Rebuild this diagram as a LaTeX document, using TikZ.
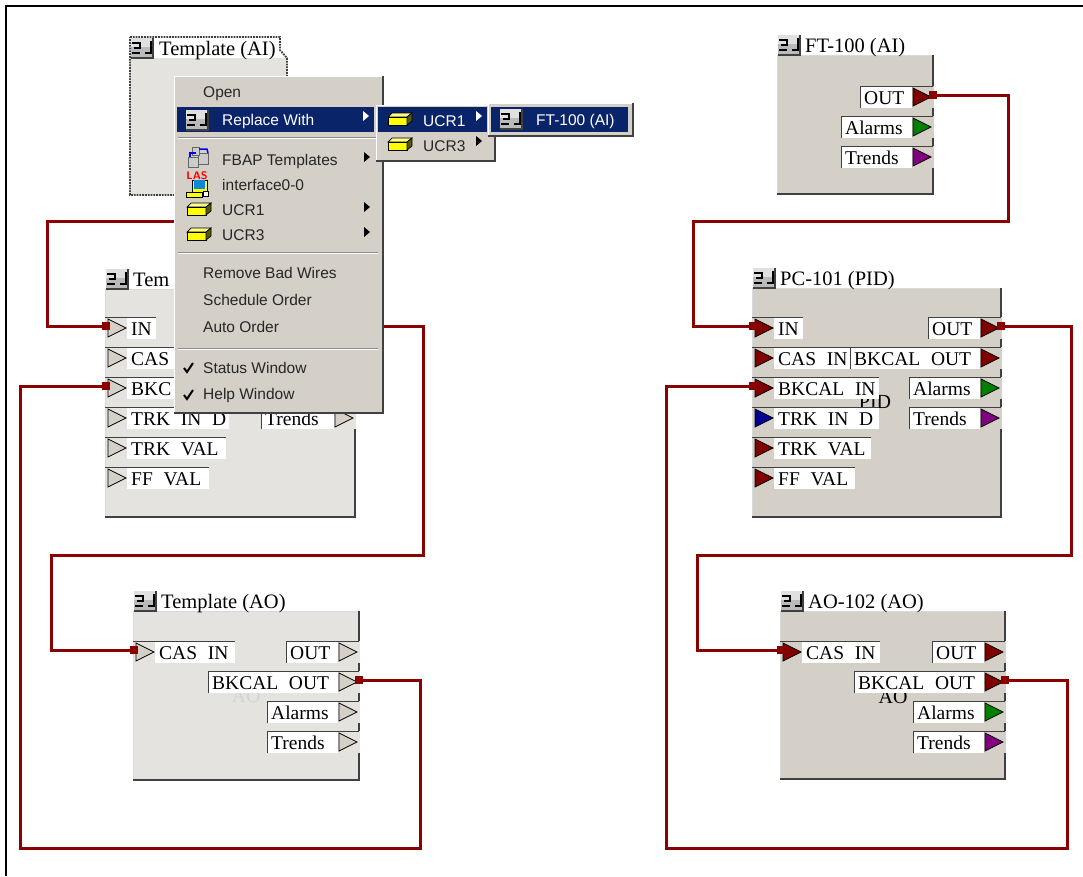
\documentclass[tikz,border=0pt]{standalone}
\usepackage{fontspec}
\setmainfont{Liberation Serif}
\newfontfamily\pinfamily{Liberation Serif}[WordSpace=2.2]
\newfontfamily\menufamily{Liberation Sans}
\usetikzlibrary{arrows.meta}

\definecolor{bodygray}{HTML}{D4D0C8}
\definecolor{stipple}{HTML}{E5E3DF}
\definecolor{edgedark}{HTML}{404040}
\definecolor{wirered}{HTML}{8B0000}
\definecolor{pinred}{HTML}{800000}
\definecolor{pinblue}{HTML}{000090}
\definecolor{pingreen}{HTML}{008000}
\definecolor{pinpurple}{HTML}{800080}
\definecolor{menunavy}{HTML}{0A246A}
\definecolor{chipyellow}{HTML}{FFFF00}

\tikzset{
  frameline/.style={line width=2pt, black},
  wire/.style={line width=3pt, wirered,
    {Square[length=8pt,width=8pt]}-{Square[length=8pt,width=8pt]}},
  edgeline/.style={line width=1.5pt, edgedark},
  pinline/.style={line width=1pt, edgedark},
  pintip/.style={draw=black, line width=0.8pt, line join=miter},
  pintext/.style={inner sep=0pt, anchor=west, yshift=-1pt, text=black, font=\pinfamily\fontsize{19.5}{20}\selectfont},
  titletext/.style={inner sep=0pt, anchor=west, text height=16pt, text depth=2pt, text=black, font=\fontsize{20.5}{22}\selectfont},
  middletext/.style={inner sep=0pt, font=\fontsize{20}{22}\selectfont},
  menutext/.style={inner sep=0pt, anchor=west, yshift=-1pt, text=black!85, font=\menufamily\fontsize{15.5}{17}\selectfont},
  seloutline/.style={line width=1.8pt, black!75, densely dotted},
  menubox/.style={fill=bodygray},
  blockicon/.pic={
    \fill[black!27] (0,0) rectangle (22,20);
    \fill[black!12] (0,0) rectangle (22,9);
    \draw[edgedark, line width=1.3pt] (22,0) -- (22,20) -- (0,20);
    \draw[black, line width=1.2pt] (1,5) -- (9,5) -- (9,10) -- (3,10) (1,15) -- (9,15)
      (20,3) -- (20,15) -- (14,15);
  },
  chipicon/.pic={
    \fill[chipyellow!50!white, draw=black, line width=0.7pt] (0,4) -- (4,0) -- (24,0) -- (19,4) -- cycle;
    \fill[chipyellow, draw=black, line width=0.7pt] (0,4) rectangle (19,12);
    \fill[black!65!chipyellow, draw=black, line width=0.7pt] (19,4) -- (24,0) -- (24,8) -- (19,12) -- cycle;
    \draw[black, line width=1.4pt] (0,12.5) -- (19,12.5);
  },
}

% block body with its icon and title
\newcommand{\blockbody}[7]{
  \fill[#5] (#1,#2) rectangle (#3,#4);
  \draw[white!85!black, line width=1pt] (#1,#4) -- (#1,#2) -- (#3,#2);
  \draw[edgeline] (#3,#2) -- (#3,#4) -- (#1,#4);
  \pic at (#1+1,#2-20) {blockicon};
  \node[titletext] (#7) at (#1+28,#2-9.5) {#6};
}

% pin on the left side: name, x of block, row, colour, text, label width
\newcommand{\pinleft}[6]{
  \fill[white] (#2+22,#3-11) rectangle (#2+22+#6,#3+11);
  \draw[pinline] (#2,#3-11) -- (#2+22+#6,#3-11);
  \fill[#4, pintip] (#2+3,#3-9) -- (#2+21,#3) -- (#2+3,#3+9) -- cycle;
  \node[pintext] (#1-text) at (#2+26,#3) {#5};
  \coordinate (#1) at (#2+5,#3-2);
}

% pin on the right side, the same arguments
\newcommand{\pinright}[6]{
  \fill[\pinback] (#2-21,#3-11) rectangle (#2+1,#3+11);
  \fill[white] (#2-21-#6,#3-11) rectangle (#2-21,#3+11);
  \draw[pinline] (#2-21-#6,#3+11) -- (#2-21-#6,#3-11) -- (#2,#3-11);
  \fill[#4, pintip] (#2-20,#3-9) -- (#2-2,#3) -- (#2-20,#3+9) -- cycle;
  \node[pintext] (#1-text) at (#2-21-#6+4,#3) {#5};
  \coordinate (#1) at (#2-4,#3-2);
}

\begin{document}
\begin{tikzpicture}[x=1pt, y=-1pt]
  \useasboundingbox (0,0) rectangle (1083,876);

  % outer frame
  \draw[frameline] (6,876) -- (6,6) -- (1083,6);

  % selected template block
  \fill[stipple] (130,58) rectangle (287,195);
  \draw[seloutline] (130,37) -- (280,37) -- (280,50) -- (287,58) -- (287,195) -- (130,195) -- cycle;
  \pic at (131,38) {blockicon};
  \node[titletext] (tplai) at (159,48) {Template (AI)};

  % template blocks
  \def\pinback{stipple}
  \blockbody{105}{289}{355}{517}{stipple}{Tem}{tplpid}
  \blockbody{133}{611}{359}{780}{stipple}{Template (AO)}{tplao}
  \node[middletext, text=black!17] (tplaomark) at (246,696) {AO};
  \foreach \nm/\y/\lab/\w in {tin/328/IN/29, tcas/358/CAS/75, tbk/388/BKC/104,
      ttrk/418/TRK IN D/102, tval/448/TRK VAL/99, tff/478/FF VAL/82} {
    \pinleft{\nm}{105}{\y}{bodygray}{\lab}{\w}
  }
  \coordinate (tout) at (351,326);
  \pinright{ttrends}{355}{418}{bodygray}{Trends}{73}
  \pinleft{aocas}{133}{652}{bodygray}{CAS IN}{80}
  \foreach \nm/\y/\lab/\w in {aoout/652/OUT/52, aobk/682/BKCAL OUT/130,
      aoalarm/712/Alarms/71, aotrend/742/Trends/71} {
    \pinright{\nm}{359}{\y}{bodygray}{\lab}{\w}
  }

  % working blocks
  \def\pinback{bodygray}
  \blockbody{777}{55}{933}{194}{bodygray}{FT-100 (AI)}{ftblock}
  \foreach \nm/\y/\col/\lab/\w in {ftout/97/pinred/OUT/52, ftalarm/127/pingreen/Alarms/71,
      fttrend/157/pinpurple/Trends/71} {
    \pinright{\nm}{933}{\y}{\col}{\lab}{\w}
  }

  \blockbody{752}{288}{1001}{517}{bodygray}{PC-101 (PID)}{pcblock}
  \node[middletext] (pcmark) at (875,402) {PID};
  \foreach \nm/\y/\col/\lab/\w in {pctrk/418/pinblue/TRK IN D/105, pcval/448/pinred/TRK VAL/97,
      pcff/478/pinred/FF VAL/81, pccas/358/pinred/CAS IN/76, pcin/328/pinred/IN/29,
      pcbk/388/pinred/BKCAL IN/105} {
    \pinleft{\nm}{752}{\y}{\col}{\lab}{\w}
  }
  \foreach \nm/\y/\col/\lab/\w in {pcout/328/pinred/OUT/52, pcbko/358/pinred/BKCAL OUT/130,
      pcalarm/388/pingreen/Alarms/71, pctrend/418/pinpurple/Trends/71} {
    \pinright{\nm}{1001}{\y}{\col}{\lab}{\w}
  }

  \blockbody{780}{611}{1005}{779}{bodygray}{AO-102 (AO)}{aoblock}
  \node[middletext] (aomark) at (893,697) {AO};
  \pinleft{rcas}{780}{652}{pinred}{CAS IN}{78}
  \foreach \nm/\y/\col/\lab/\w in {roout/652/pinred/OUT/52, robk/682/pinred/BKCAL OUT/130,
      roalarm/712/pingreen/Alarms/71, rotrend/742/pinpurple/Trends/71} {
    \pinright{\nm}{1005}{\y}{\col}{\lab}{\w}
  }

  % wires
  \coordinate (aiout) at (230,221);
  \draw[wire] (aiout) -- (47,221) |- (tin);
  \draw[wire] (tout) -| (423,555) -- (51,555) |- (aocas);
  \draw[wire] (aobk) -| (420,848) -- (20,848) |- (tbk);
  \draw[wire] (ftout) -| (1008,221) -- (693,221) |- (pcin);
  \draw[wire] (pcout) -| (1071,555) -- (697,555) |- (rcas);
  \draw[wire] (robk) -| (1067,848) -- (666,848) |- (pcbk);

  % main menu
  \fill[menubox] (174,76) rectangle (383,413);
  \draw[white, line width=1pt] (174,413) -- (174,76) -- (383,76);
  \draw[edgeline] (383,76) -- (383,413) -- (174,413);
  \fill[menunavy] (177,107) rectangle (374,132);
  \foreach \y in {137, 252, 348} {
    \draw[black!45, line width=1pt] (178,\y) -- (378,\y);
    \draw[white, line width=1pt] (178,\y+1) -- (378,\y+1);
  }
  \foreach \nm/\y/\lab in {mopen/93/Open, mbad/272/Remove Bad Wires, msched/299/Schedule Order,
      mauto/326/Auto Order, mstatus/367/Status Window, mhelp/394/Help Window}
    \node[menutext] (\nm) at (203,\y) {\lab};
  \foreach \nm/\y/\lab in {mfbap/160/FBAP Templates, miface/184/interface0-0, mucra/209/UCR1, mucrb/234/UCR3}
    \node[menutext] (\nm) at (222,\y) {\lab};
  \node[menutext, text=white] (mreplace) at (222,120) {Replace With};
  \foreach \y in {152, 202, 227}
    \fill[black] (364,\y) -- (370,\y+5) -- (364,\y+10) -- cycle;
  \fill[white] (363,111) -- (369,116) -- (363,121) -- cycle;
  \foreach \y in {368, 395}
    \draw[black, line width=2pt] (184,\y) -- (187,\y+4) -- (193,\y-5);

  % menu icons
  \pic at (186,110) {blockicon};
  \fill[black!20, draw=black!60] (188,157) rectangle (198,167);
  \fill[black!20, draw=black!60] (198,153) rectangle (208,164);
  \fill[black!20, draw=black!60] (192,147) rectangle (199,155);
  \draw[blue, line width=1.5pt] (199,149) -- (207,149) -- (208,153);
  \draw[blue, line width=1.5pt] (190,157) -- (190,153) -- (196,153);
  \fill[chipyellow, draw=black] (192,180) rectangle (207,192);
  \fill[cyan!70!blue] (194,180) rectangle (205,189);
  \fill[chipyellow, draw=black] (186,192) rectangle (202,197);
  \fill[white, draw=black] (203,191) rectangle (208,196);
  \node[inner sep=0pt, text=red, font=\bfseries\sffamily\fontsize{11}{11}\selectfont] (mlas) at (197,176) {LAS};
  \pic at (187,203) {chipicon};
  \pic at (187,228) {chipicon};

  % first submenu
  \fill[menubox] (376,105) rectangle (495,161);
  \draw[white, line width=1pt] (376,161) -- (376,105) -- (495,105);
  \draw[edgeline] (495,105) -- (495,161) -- (376,161);
  \fill[menunavy] (378,107) rectangle (487,132);
  \pic at (388,113) {chipicon};
  \pic at (388,138) {chipicon};
  \node[menutext, text=white] (subucra) at (423,120) {UCR1};
  \node[menutext] (subucrb) at (423,145) {UCR3};
  \fill[white] (476,111) -- (482,116) -- (476,121) -- cycle;
  \fill[black] (476,136) -- (482,141) -- (476,146) -- cycle;

  % second submenu
  \fill[menubox] (488,103) rectangle (633,136);
  \draw[white, line width=1pt] (488,136) -- (488,103) -- (633,103);
  \draw[edgeline] (633,103) -- (633,136) -- (488,136);
  \fill[menunavy] (491,107) rectangle (628,132);
  \pic at (500,109) {blockicon};
  \node[menutext, text=white] (subft) at (536,120) {FT-100 (AI)};
\end{tikzpicture}
\end{document}
